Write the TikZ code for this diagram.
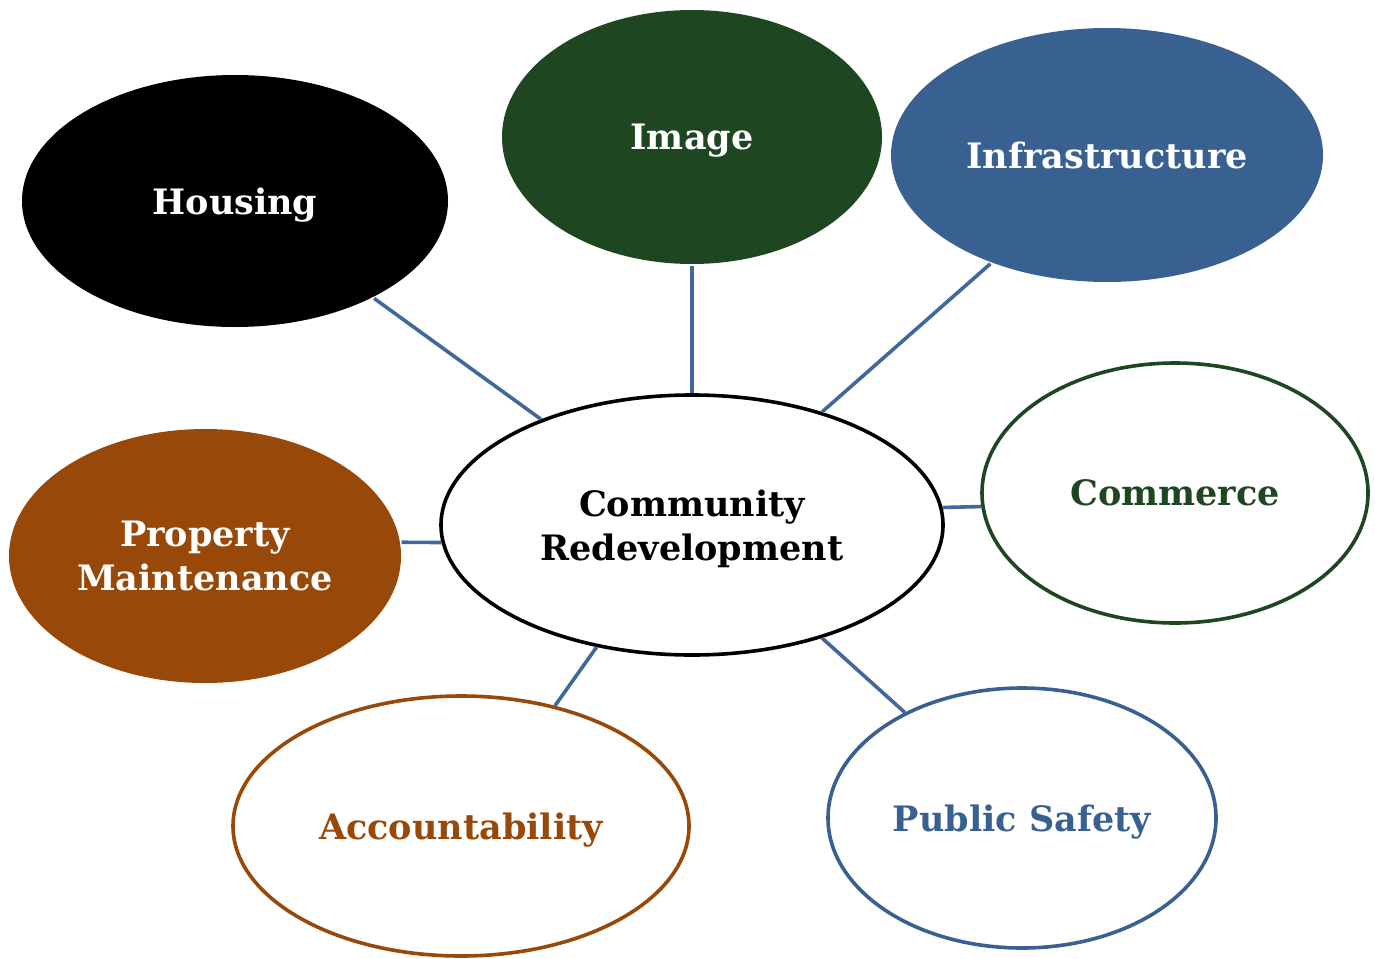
\documentclass[tikz,border=0pt]{standalone}
\usepackage{fontspec}
\setmainfont{DejaVu Serif}
\usetikzlibrary{shapes.geometric}
\definecolor{cgreen}{HTML}{1E4620}
\definecolor{cblue}{HTML}{386192}
\definecolor{cbrown}{HTML}{984808}
\definecolor{cline}{HTML}{41689A}
\tikzset{
  bub/.style={ellipse, inner sep=0pt, line width=1.8pt, align=center,
    font=\fontsize{17.5}{22}\selectfont\bfseries, text depth=-1.5pt},
  link/.style={draw=cline, line width=1.8pt}
}
\begin{document}
\begin{tikzpicture}[x=0.5pt,y=-0.5pt]
\useasboundingbox (0,0) rectangle (1375,958);
\node[bub, fill=black, text=white, minimum width=213pt, minimum height=126pt] (hous) at (235,201) {Housing};
\node[bub, fill=cgreen, text=white, minimum width=190pt, minimum height=127pt] (img) at (692,137) {Image};
\node[bub, fill=cblue, text=white, minimum width=216pt, minimum height=127pt] (infra) at (1107,155) {Infrastructure};
\node[bub, draw=cgreen, fill=white, text=cgreen, minimum width=193pt, minimum height=130pt] (comm) at (1175,493) {Commerce};
\node[bub, fill=cbrown, text=white, minimum width=196pt, minimum height=127pt] (prop) at (205,556) {Property\\Maintenance};
\node[bub, draw=black, fill=white, text=black, minimum width=251pt, minimum height=130pt] (cd) at (692,525) {Community\\Redevelopment};
\node[bub, draw=cbrown, fill=white, text=cbrown, minimum width=228pt, minimum height=130pt] (acc) at (461,826) {Accountability};
\node[bub, draw=cblue, fill=white, text=cblue, minimum width=194pt, minimum height=130pt] (ps) at (1022,818) {Public Safety};
\draw[link] (hous.-35) -- (cd.145);
\draw[link] (img.-90) -- (cd.90);
\draw[link] (infra.-137.7) -- (cd.41.4);
\draw[link] (comm.184.2) -- (cd.4.3);
\draw[link] (prop.4.4) -- (cd.184.2);
\draw[link] (acc.52.3) -- (cd.232.5);
\draw[link] (ps.138.4) -- (cd.-41.4);
\end{tikzpicture}
\end{document}
